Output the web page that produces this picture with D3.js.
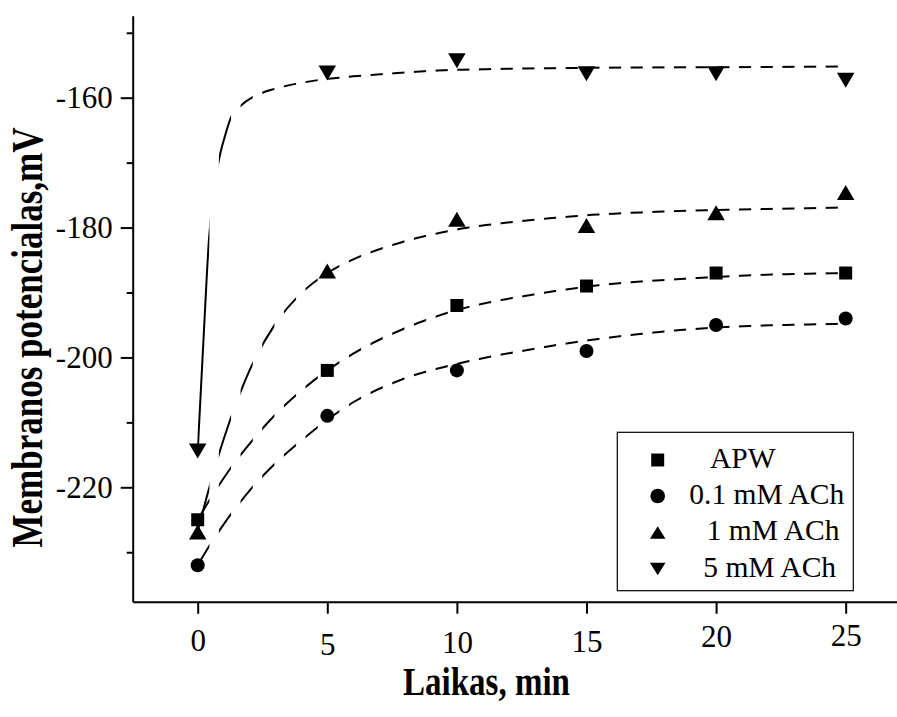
<!DOCTYPE html>
<html>
<head>
<meta charset="utf-8">
<script src="https://cdn.jsdelivr.net/npm/d3@7"></script>
<style>
  html, body { margin: 0; padding: 0; background: #fff; }
  svg { display: block; }
  text { font-family: "Liberation Serif", "Times New Roman", serif; fill: #000; }
</style>
</head>
<body>
<svg id="chart" width="897" height="717"></svg>
<script>
// ---------- data ----------
const times = [0, 5, 10, 15, 20, 25];
const seriesNames = ["APW", "0.1 mM ACh", "1 mM ACh", "5 mM ACh"];
const apw   = [-225.0, -202.0, -192.0, -189.0, -187.0, -187.0];
const ach01 = [-232.0, -209.0, -202.0, -199.0, -195.0, -194.0];
const ach1  = [-226.9, -186.7, -178.7, -179.7, -177.7, -174.6];
const ach5  = [-214.4, -156.2, -154.3, -156.3, -156.3, -157.3];

// fitted curves
const fitTimes = [0, 0.5, 1, 1.5, 2, 3, 4, 5, 6, 8, 10, 12.5, 15, 17.5, 20, 22.5, 25];
const fitApw   = [-225.0, -221.7, -218.6, -215.8, -213.3, -208.8, -205.1, -202.0, -199.4, -195.5, -192.7, -190.6, -189.1, -188.2, -187.6, -187.2, -187.0];
const fitAch01 = [-232.0, -228.7, -225.7, -223.0, -220.5, -216.3, -212.8, -209.6, -206.9, -203.2, -201.0, -199.0, -197.4, -196.2, -195.4, -195.0, -194.8];
const fitAch1  = [-226.7, -219.3, -212.6, -206.9, -202.0, -194.8, -190.1, -187.0, -184.9, -182.1, -180.3, -179.0, -178.1, -177.6, -177.3, -177.1, -176.9];
const fitTimes5 = [0, 0.22, 0.44, 0.65, 0.86, 1.06, 1.27, 1.7, 2.15, 3, 4, 5, 6, 8, 10, 12.5, 15, 20, 25];
const fitAch5   = [-214.4, -197.5, -181.5, -173.5, -168.8, -165.8, -163.2, -161.1, -159.85, -158.6, -157.7, -157.1, -156.7, -156.1, -155.7, -155.5, -155.4, -155.3, -155.2];

const xTicks = [0, 5, 10, 15, 20, 25];
const xTickLabels = ["0", "5", "10", "15", "20", "25"];
const yMajorTicks = [-220, -200, -180, -160];
const yTickLabels = ["-220", "-200", "-180", "-160"];
const yMinorTicks = [-230, -210, -190, -170, -150];

const xTitle = "Laikas, min";
const yTitle = "Membranos potencialas,mV";

// ---------- layout ----------
const svg = d3.select("#chart");
svg.append("rect").attr("width", 897).attr("height", 717).attr("fill", "#fff");

const x = d3.scaleLinear().domain([-2.508, 26.98]).range([132.7, 897]);
const y = d3.scaleLinear().domain([-237.62, -147.37]).range([601.7, 15.7]);

// dash mask: dashes evenly spaced along x (as in the original rendering)
const defs = svg.append("defs");
const mask = defs.append("mask").attr("id", "dashMask")
  .attr("maskUnits", "userSpaceOnUse").attr("x", 0).attr("y", 0)
  .attr("width", 897).attr("height", 717);
const dashStart = x(0) - 0.5, dashPeriod = 21.67, dashLen = 12.2;
const stripes = d3.range(dashStart, 900, dashPeriod);
mask.selectAll("rect").data(stripes).join("rect")
  .attr("x", d => d).attr("y", 0).attr("width", dashLen).attr("height", 717)
  .attr("fill", "#fff");

// fitted curves
const line = d3.line().x(d => x(d[0])).y(d => y(d[1])).curve(d3.curveMonotoneX);
const fits = [
  d3.zip(fitTimes, fitApw),
  d3.zip(fitTimes, fitAch01),
  d3.zip(fitTimes, fitAch1),
  d3.zip(fitTimes5, fitAch5)
];
svg.append("g").attr("mask", "url(#dashMask)")
  .selectAll("path").data(fits).join("path")
  .attr("d", line)
  .attr("fill", "none").attr("stroke", "#000").attr("stroke-width", 2);

// markers
const shapes = ["square", "circle", "up", "down"];
function markerPath(kind, s) {
  if (kind === "square") { const h = s.sq / 2; return `M${-h},${-h}H${h}V${h}H${-h}Z`; }
  if (kind === "circle") return d3.symbol(d3.symbolCircle, Math.PI * s.r * s.r)();
  const w = s.tw / 2, h = s.th / 2;
  if (kind === "up") return `M0,${-h}L${w},${h}L${-w},${h}Z`;
  return `M0,${h}L${w},${-h}L${-w},${-h}Z`;
}
const plotSize = { sq: 13, r: 7, tw: 17.5, th: 15 };
const allSeries = [apw, ach01, ach1, ach5];
allSeries.forEach((vals, i) => {
  svg.append("g").selectAll("path").data(d3.zip(times, vals)).join("path")
    .attr("transform", d => `translate(${x(d[0])},${y(d[1])})`)
    .attr("d", markerPath(shapes[i], plotSize))
    .attr("fill", "#000");
});

// axes
const axisFont = 31;
const yAxisMajor = svg.append("g").attr("transform", `translate(${x.range()[0]},0)`)
  .call(d3.axisLeft(y).tickValues(yMajorTicks).tickSize(12).tickSizeOuter(0).tickPadding(8)
    .tickFormat((d, i) => yTickLabels[i]));
const yAxisMinor = svg.append("g").attr("transform", `translate(${x.range()[0]},0)`)
  .call(d3.axisLeft(y).tickValues(yMinorTicks).tickSize(6).tickSizeOuter(0).tickFormat(""));
const xAxis = svg.append("g").attr("transform", `translate(0,${y.range()[0]})`)
  .call(d3.axisBottom(x).tickValues(xTicks).tickSize(12).tickSizeOuter(0)
    .tickFormat((d, i) => xTickLabels[i]));

[yAxisMajor, yAxisMinor, xAxis].forEach(g => {
  g.selectAll("path.domain").attr("stroke", "#000").attr("stroke-width", 2);
  g.selectAll(".tick line").attr("stroke", "#000").attr("stroke-width", 2);
  g.selectAll("text").attr("font-family", "Liberation Serif, Times New Roman, serif")
    .attr("font-size", axisFont).attr("fill", "#000");
});
yAxisMinor.select("path.domain").remove();

// x tick labels sit at slightly uneven heights in the original
const xLabelShift = [0, 4, 2.5, 1, -4, -5];
xAxis.selectAll(".tick text").attr("dy", null)
  .attr("y", (d, i) => 650.7 - y.range()[0] + xLabelShift[i]);

// axis titles
svg.append("text").text(xTitle)
  .attr("transform", "translate(486.5,695) scale(1,1.2)")
  .attr("text-anchor", "middle").attr("font-weight", "bold").attr("font-size", 33);
svg.append("text").text(yTitle)
  .attr("transform", "translate(41.5,337.5) rotate(-90) scale(1,1.25)")
  .attr("text-anchor", "middle").attr("font-weight", "bold").attr("font-size", 35);

// legend
const lg = svg.append("g");
lg.append("rect").attr("x", 617.3).attr("y", 432.3).attr("width", 236).attr("height", 158.4)
  .attr("fill", "#fff").attr("stroke", "#000").attr("stroke-width", 1.2);
const legRowY = [460, 496, 532.5, 569];
const legTextX = [710, 689.3, 706.7, 703.3];
const legendSize = { sq: 13, r: 7.3, tw: 15.5, th: 12.5 };
seriesNames.forEach((name, i) => {
  lg.append("path").attr("transform", `translate(657.7,${legRowY[i]})`)
    .attr("d", markerPath(shapes[i], legendSize)).attr("fill", "#000");
  lg.append("text").text(name).attr("x", legTextX[i]).attr("y", legRowY[i] + 7.5)
    .attr("font-size", 29.5);
});
</script>
</body>
</html>
